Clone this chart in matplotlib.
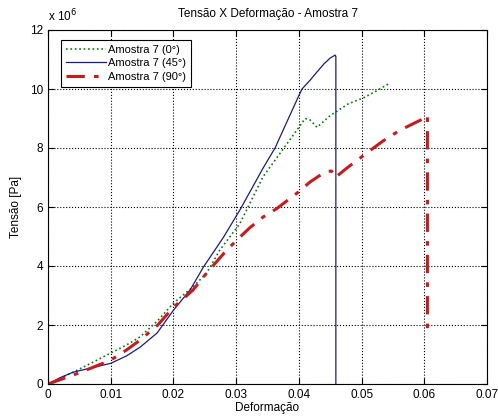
import matplotlib
matplotlib.use("Agg")
import matplotlib.pyplot as plt
import numpy as np

plt.rcParams['font.family'] = ['Liberation Sans', 'DejaVu Sans']

# Amostra 7 (0°) - green dotted
x0 = [0.0, 0.002, 0.004, 0.007, 0.010, 0.0125, 0.0147, 0.0175, 0.020, 0.0231, 0.0253, 0.0274, 0.0306,
      0.0343, 0.037, 0.0399, 0.041, 0.0418, 0.0429, 0.045, 0.0479, 0.0503, 0.0525, 0.0545]
y0 = [0.0, 0.2, 0.4, 0.72, 1.05, 1.32, 1.6, 2.15, 2.74, 3.29, 3.76, 4.54, 5.44,
      7.03, 7.82, 8.67, 9.0, 8.95, 8.7, 9.1, 9.5, 9.7, 9.95, 10.2]

# Amostra 7 (45°) - blue solid
x45 = [0.0, 0.002, 0.004, 0.007, 0.010, 0.0125, 0.0147, 0.0174, 0.020, 0.0227, 0.0248, 0.028, 0.0306,
       0.0343, 0.0362, 0.0399, 0.0405, 0.0418, 0.0429, 0.044, 0.045, 0.0458, 0.0459, 0.0459]
y45 = [0.0, 0.22, 0.4, 0.55, 0.7, 0.95, 1.25, 1.73, 2.5, 3.2, 3.97, 4.98, 5.9,
       7.32, 8.0, 9.73, 10.0, 10.3, 10.58, 10.85, 11.05, 11.15, 11.1, 0.0]

# Amostra 7 (90°) - red dash-dot
x90 = [0.0, 0.002, 0.004, 0.007, 0.010, 0.0125, 0.0147, 0.0175, 0.020, 0.0231, 0.0253, 0.0285, 0.0306,
       0.0322, 0.0343, 0.0365, 0.0397, 0.0418, 0.0432, 0.0445, 0.0452, 0.0458, 0.0479, 0.0519, 0.0535,
       0.0561, 0.0604, 0.0605, 0.0605]
y90 = [0.0, 0.15, 0.3, 0.55, 0.81, 1.15, 1.49, 2.0, 2.6, 3.18, 3.76, 4.54, 4.98,
       5.3, 5.66, 5.95, 6.47, 6.85, 7.05, 7.2, 7.22, 7.0, 7.36, 8.0, 8.25,
       8.6, 9.05, 9.1, 1.8]

xticks = [0, 0.01, 0.02, 0.03, 0.04, 0.05, 0.06, 0.07]
xticklabels = ['0', '0.01', '0.02', '0.03', '0.04', '0.05', '0.06', '0.07']
yticks = [0, 2, 4, 6, 8, 10, 12]

fig = plt.figure(figsize=(4.98, 4.2), dpi=100)
ax = fig.add_axes([48/498, 36/420, 439/498, 354/420])

ax.plot(x0, np.array(y0) * 1e6, color='#008000', linestyle=':', linewidth=1.2, label='Amostra 7 (0°)')
ax.plot(x45, np.array(y45) * 1e6, color='#1a1a8c', linestyle='-', linewidth=0.9, label='Amostra 7 (45°)')
ax.plot(x90, np.array(y90) * 1e6, color='#cc1a1a', linestyle='-.', linewidth=2.2,
        dashes=(6, 3, 1.5, 3), label='Amostra 7 (90°)')

ax.set_xlim(0, 0.07)
ax.set_ylim(0, 12e6)
ax.set_xticks(xticks)
ax.set_xticklabels(xticklabels)
ax.set_yticks([v * 1e6 for v in yticks])
ax.set_yticklabels([str(v) for v in yticks])
ax.grid(True, color='black', linestyle=':', linewidth=0.8)
ax.tick_params(direction='in', top=True, right=True, labelsize=8.5, length=4)
for s in ax.spines.values():
    s.set_linewidth(0.8)

ax.text(0.0, 1.015, r'x 10$^6$', transform=ax.transAxes, fontsize=8.5, ha='left', va='bottom')
ax.set_title('Tensão X Deformação - Amostra 7', fontsize=8.5, pad=9)
ax.set_xlabel('Deformação', fontsize=8.5, labelpad=1)
ax.set_ylabel('Tensão [Pa]', fontsize=8.5, labelpad=6)

leg = ax.legend(loc='upper left', bbox_to_anchor=(0.03, 0.972), borderaxespad=0, fontsize=8,
                frameon=True, fancybox=False, edgecolor='black', framealpha=1, borderpad=0.45,
                handlelength=3.6, labelspacing=0.3, handletextpad=0.15)
leg.get_frame().set_linewidth(0.8)

fig.savefig('out.png', dpi=100)
